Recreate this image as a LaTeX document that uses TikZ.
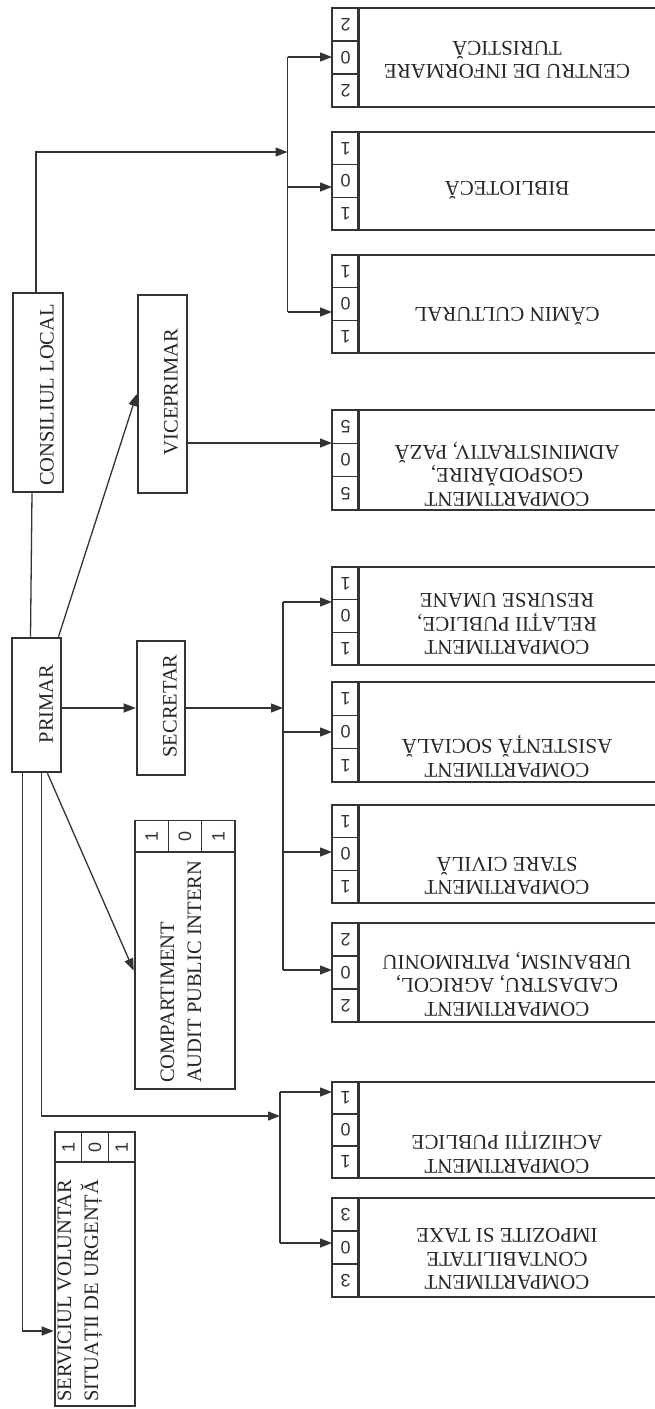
\documentclass[tikz,border=0pt]{standalone}
\usepackage{fontspec}
\setmainfont{Liberation Serif}
\newfontfamily\digitfont{Liberation Sans}
\usepackage{graphicx}
\usetikzlibrary{arrows.meta,positioning}

\tikzset{
  wire/.style={draw=black!80, line width=1.3pt},
  conn/.style={wire, -{Triangle[length=12pt,width=9pt]}},
  headbox/.style={draw=black!80, line width=2.6pt, fill=white},
  unitbox/.style={draw=black!80, line width=1.5pt},
  numcell/.style={draw=black!80, line width=1.1pt, text=black!80,
    font=\digitfont\fontsize{18}{18}\selectfont},
  headtext/.style={rotate=90, text=black!85, font=\fontsize{20.5}{27}\selectfont},
  unittext/.style={rotate=180, align=center, text=black!85,
    font=\fontsize{21}{23.5}\selectfont},
}

\begin{document}
\begin{tikzpicture}[x=1pt,y=-1pt,inner sep=0pt]
\path[use as bounding box, clip] (0,0) rectangle (655,1409);

\node[headbox, minimum width=50, minimum height=199] (cl) at (38,392.5) {};
\node[headtext] (cl-t) at (47,395) {CONSILIUL LOCAL};
\node[headbox, minimum width=49, minimum height=134] (pr) at (36.5,705) {};
\node[headtext] (pr-t) at (46,704) {PRIMAR};
\node[headbox, minimum width=49, minimum height=198] (vice) at (162.5,394) {};
\node[headtext] (vice-t) at (171,392) {VICEPRIMAR};
\node[headbox, minimum width=48, minimum height=134] (sec) at (161,708) {};
\node[headtext] (sec-t) at (170,706) {SECRETAR};

\node[headbox, minimum width=100, minimum height=237] (audit) at (185,970.5) {};
\foreach \i/\d in {1/1,2/0,3/1}
  \node[numcell, minimum width=31, minimum height=33.3, rotate=90] (audit-n\i) at ({135+33.33*(\i-0.5)},836) {\d};
\node[headtext, anchor=west, align=left] (audit-t) at (181,1083) {COMPARTIMENT\\AUDIT PUBLIC INTERN};

\node[headbox, minimum width=80, minimum height=244] (serv) at (95,1284) {};
\foreach \i/\d in {1/1,2/0,3/1}
  \node[numcell, minimum width=30, minimum height=26.7, rotate=90] (serv-n\i) at ({55+26.67*(\i-0.5)},1147) {\d};
\node[headtext, anchor=west, align=left] (serv-t) at (80,1402) {SERVICIUL VOLUNTAR\\SITUAȚII DE URGENȚĂ};

\foreach \nm/\ya/\yb/\ay/\ty/\d/\txt in {
  centru/8/107/57/60/2/{CENTRU DE INFORMARE\\TURISTICĂ},
  biblio/132/230/187/190/1/{BIBLIOTECĂ},
  camin/255/353/312/316/1/{CĂMIN CULTURAL},
  gosp/410/510/443/474/5/{COMPARTIMENT\\GOSPODĂRIRE,\\ADMINISTRATIV, PAZĂ},
  relatii/567/665/602/624/1/{COMPARTIMENT\\RELAȚII PUBLICE,\\RESURSE UMANE},
  asist/682/782/732/756/1/{COMPARTIMENT\\ASISTENȚĂ SOCIALĂ},
  stare/805/903/852/876/1/{COMPARTIMENT\\STARE CIVILĂ},
  cadastru/923/1022/970/984/2/{COMPARTIMENT\\CADASTRU, AGRICOL,\\URBANISM, PATRIMONIU},
  achiz/1082/1178/1092/1152/1/{COMPARTIMENT\\ACHIZIȚII PUBLICE},
  contab/1198/1297/1243/1259/3/{COMPARTIMENT\\CONTABILITATE\\IMPOZITE SI TAXE}}
{
  \node[unitbox, minimum width=303, minimum height={\yb-\ya}] (\nm) at (510.5,{(\ya+\yb)/2}) {};
  \foreach \i in {1,2,3}
    \node[numcell, minimum width=27, minimum height={(\yb-\ya)/3}, rotate=180] (\nm-n\i) at (345.5,{\ya+(\yb-\ya)*(\i-0.5)/3}) {\ifnum\i=2 0\else\d\fi};
  \draw[wire, line width=2.6pt] (\nm.north west) -- (\nm.south west);
  \node[unittext] (\nm-t) at (507,\ty) {\txt};
  \coordinate (\nm-in) at (332,\ay);
}

\draw[wire] ([xshift=-6pt]pr.north) -- ([xshift=-6pt]cl.south);

\coordinate (cbus) at (287.5,152);
\draw[conn] ([xshift=-2pt]cl.north) |- (cbus);
\draw[wire] (centru-in -| cbus) -- (camin-in -| cbus);
\foreach \u in {centru,biblio,camin}
  \draw[conn] (\u-in -| cbus) -- (\u-in);

\draw[conn] ([xshift=22pt]pr.north) -- (vice.west);
\draw[conn] (vice.east |- gosp-in) -- (gosp-in);
\draw[conn] (pr.east |- sec.west) -- (sec.west);

\coordinate (sbus) at (283,713);
\draw[conn] (sec.east) -- (sec.east -| sbus);
\draw[wire] (relatii-in -| sbus) -- (cadastru-in -| sbus);
\foreach \u in {relatii,asist,stare,cadastru}
  \draw[conn] (\u-in -| sbus) -- (\u-in);

\coordinate (abus) at (280,1116);
\draw[conn] ([xshift=5pt]pr.south) |- (abus);
\draw[wire] (achiz-in -| abus) -- (contab-in -| abus);
\foreach \u in {achiz,contab}
  \draw[conn] (\u-in -| abus) -- (\u-in);

\draw[conn] ([xshift=11pt]pr.south) -- (audit.west);
\draw[conn] ([xshift=-14pt]pr.south) |- ([yshift=-47pt]serv.west);
\end{tikzpicture}
\end{document}
